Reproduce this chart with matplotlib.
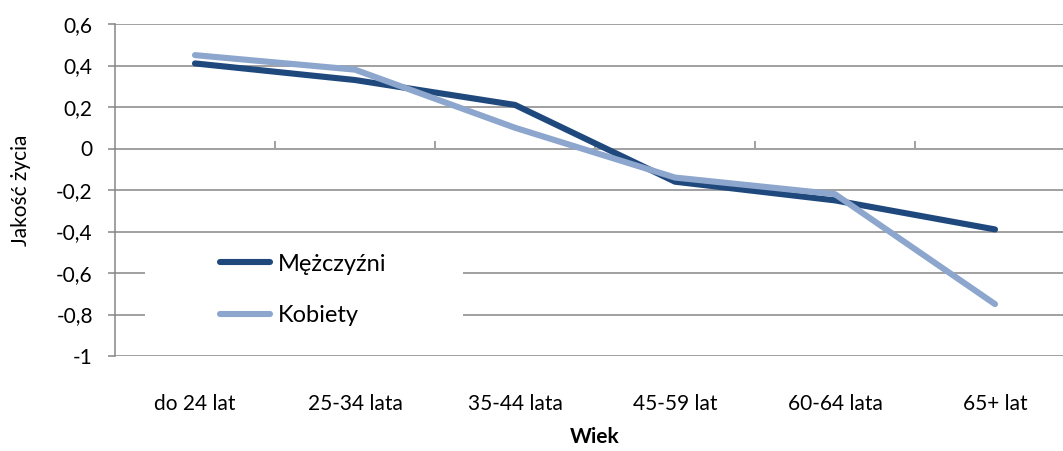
import matplotlib
matplotlib.use("Agg")
import matplotlib.pyplot as plt
from matplotlib.ticker import FixedLocator, FuncFormatter
from matplotlib.patches import Rectangle

categories = ["do 24 lat", "25-34 lata", "35-44 lata", "45-59 lat", "60-64 lata", "65+ lat"]
mezczyzni = [0.41, 0.33, 0.21, -0.16, -0.25, -0.39]
kobiety = [0.45, 0.38, 0.10, -0.14, -0.22, -0.75]
yticks = [0.6, 0.4, 0.2, 0, -0.2, -0.4, -0.6, -0.8, -1]

plt.rcParams['font.family'] = ['Lato', 'DejaVu Sans']
W, H = 1063, 451
fig = plt.figure(figsize=(W / 100, H / 100), dpi=100)
AX_L, AX_R, AX_T, AX_B = 115, 1075, 24, 356
ax = fig.add_axes([AX_L / W, (H - AX_B) / H, (AX_R - AX_L) / W, (AX_B - AX_T) / H])
aw, ah = AX_R - AX_L, AX_B - AX_T

grid_c = '#868686'
x = list(range(len(categories)))
ax.plot(x, mezczyzni, color='#1F497D', lw=4.4, solid_capstyle='round', solid_joinstyle='round', label='Mężczyźni', zorder=3)
ax.plot(x, kobiety, color='#8CA6CD', lw=4.4, solid_capstyle='round', solid_joinstyle='round', label='Kobiety', zorder=3)

ax.set_xlim(-0.5, len(categories) - 0.5)
ax.set_ylim(-1, 0.6)
ax.yaxis.set_major_locator(FixedLocator(yticks))
ax.yaxis.set_major_formatter(FuncFormatter(lambda v, p: ('%g' % round(v, 1)).replace('.', ',')))
ax.grid(axis='y', color=grid_c, lw=1.1)
ax.set_axisbelow(True)
for s in ['top', 'right', 'bottom']:
    ax.spines[s].set_visible(False)
ax.spines['left'].set_color(grid_c)
ax.spines['left'].set_linewidth(1.1)
ax.tick_params(axis='y', direction='out', length=5, width=1.1, color=grid_c, pad=11, labelsize=15)
ax.set_xticks(x)
ax.set_xticklabels(categories)
ax.tick_params(axis='x', length=0, pad=27, labelsize=15)

# category boundary ticks on the zero line
zero_pos = (0 - (-1)) / (0.6 - (-1))
sec = ax.secondary_xaxis(zero_pos)
sec.set_xticks([i + 0.5 for i in x])
sec.set_xticklabels([])
sec.tick_params(direction='out', length=5, width=1.1, color=grid_c)
for s in sec.spines.values():
    s.set_visible(False)

ax.set_ylabel('Jakość życia', fontsize=15)
ax.yaxis.set_label_coords(-84 / aw, 0.5)
ax.set_xlabel('Wiek', fontsize=15, fontweight='bold', labelpad=10)

# white legend area
ax.add_patch(Rectangle(((145 - AX_L) / aw, (AX_B - 345) / ah), 318 / aw, 105 / ah,
                       transform=ax.transAxes, facecolor='white', edgecolor='none', zorder=1))
leg = ax.legend(loc='center left', bbox_to_anchor=((220 - AX_L) / aw, (AX_B - 290) / ah), frameon=False,
                fontsize=17, handlelength=2.1, handletextpad=0.35, labelspacing=1.3,
                borderpad=0, borderaxespad=0)

fig.savefig('out.png', dpi=100)
